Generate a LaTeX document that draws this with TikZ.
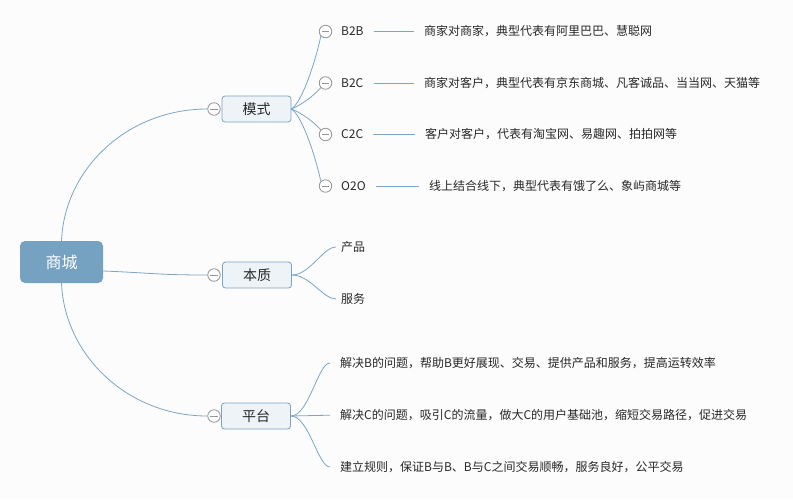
\documentclass[tikz,border=0pt]{standalone}
\usepackage{fontspec}
\setmainfont{Noto Sans CJK SC}
\usetikzlibrary{calc}
\definecolor{bg}{RGB}{252,252,252}
\definecolor{edge}{RGB}{125,165,197}
\definecolor{rootfill}{RGB}{118,162,194}
\definecolor{midfill}{RGB}{238,243,247}
\definecolor{midborder}{RGB}{122,163,195}
\definecolor{txt}{RGB}{40,40,40}
\definecolor{knob}{RGB}{150,150,150}
\begin{document}
\begin{tikzpicture}[x=1pt,y=-1pt,
 rootbox/.style={fill=rootfill, rounded corners=5pt, minimum width=83pt, minimum height=42pt, text=white, font=\fontsize{16}{16}\selectfont, inner sep=0},
 midbox/.style={draw=midborder, fill=midfill, rounded corners=3pt, minimum width=69pt, minimum height=26pt, font=\fontsize{14}{14}\selectfont, inner sep=0, line width=0.8pt, text=txt},
 knobc/.style={circle, draw=knob, fill=white, minimum size=12.5pt, inner sep=0, line width=0.8pt,
   path picture={\draw[knob, line width=0.8pt] ($(path picture bounding box.west)+(2.5pt,0)$) -- ($(path picture bounding box.east)+(-2.5pt,0)$);}},
 leaf/.style={anchor=west, inner sep=0, font=\fontsize{12}{12}\selectfont, text=txt},
 conn/.style={draw=edge, line width=0.8pt},
 tieline/.style={draw=edge, line width=0.8pt, shorten <=10pt, shorten >=10pt}]
\useasboundingbox (0,0) rectangle (793,499);
\fill[bg] (0,0) rectangle (793,499);
% main nodes
\node[rootbox] (root) at (61.5,262) {商城};
\node[midbox] (ms) at (256.5,109) {模式};
\node[midbox] (bz) at (257,275) {本质};
\node[midbox] (pt) at (256,416) {平台};
\node[knobc] (kms) at (214,109) {};
\node[knobc] (kbz) at (214,275) {};
\node[knobc] (kpt) at (214,416) {};
% root connectors
\draw[conn] (root.north) .. controls +(3,-72) and +(-80,0) .. (kms.west);
\draw[conn] (root.south) .. controls +(3,72) and +(-80,0) .. (kpt.west);
\draw[conn] ($(root.east)+(0,9)$) .. controls +(50,2) and +(-50,0) .. (kbz.west);
% mode leaves
\node[knobc] (k1) at (325.5,31.5) {};
\node[knobc] (k2) at (325.5,83) {};
\node[knobc] (k3) at (325.5,134.5) {};
\node[knobc] (k4) at (325.5,186) {};
\node[leaf] (l1) at (341,31) {B2B};
\node[leaf] (l2) at (341,83) {B2C};
\node[leaf] (l3) at (341,134) {C2C};
\node[leaf] (l4) at (341,186) {O2O};
\node[leaf] (d1) at (424,31) {商家对商家，典型代表有阿里巴巴、慧聪网};
\node[leaf] (d2) at (424,83) {商家对客户，典型代表有京东商城、凡客诚品、当当网、天猫等};
\node[leaf] (d3) at (425,134) {客户对客户，代表有淘宝网、易趣网、拍拍网等};
\node[leaf] (d4) at (429,186) {线上结合线下，典型代表有饿了么、象屿商城等};
\draw[tieline] (l1.east) -- (d1.west);
\draw[tieline] (l2.east) -- (d2.west);
\draw[tieline] (l3.east) -- (d3.west);
\draw[tieline] (l4.east) -- (d4.west);
\draw[conn] (ms.east) .. controls +(10,-6) and +(-6,28) .. (k1.south west);
\draw[conn] (ms.east) .. controls +(10,-4) and +(-7,8) .. (k2.south west);
\draw[conn] (ms.east) .. controls +(10,4) and +(-7,-8) .. (k3.north west);
\draw[conn] (ms.east) .. controls +(10,6) and +(-6,-28) .. (k4.north west);
% essence leaves
\node[leaf] (e1) at (341,247) {产品};
\node[leaf] (e2) at (341,299) {服务};
\draw[conn, shorten >=5pt] (bz.east) .. controls +(18,0) and +(-18,0) .. (e1.west);
\draw[conn, shorten >=5pt] (bz.east) .. controls +(18,0) and +(-18,0) .. (e2.west);
% platform leaves
\node[leaf] (p1) at (340,363) {解决B的问题，帮助B更好展现、交易、提供产品和服务，提高运转效率};
\node[leaf] (p2) at (340,415) {解决C的问题，吸引C的流量，做大C的用户基础池，缩短交易路径，促进交易};
\node[leaf] (p3) at (340,467) {建立规则，保证B与B、B与C之间交易顺畅，服务良好，公平交易};
\draw[conn, shorten >=10pt] (pt.east) .. controls +(18,0) and +(-22,0) .. (p1.west);
\draw[conn, shorten >=10pt] (pt.east) -- (p2.west);
\draw[conn, shorten >=10pt] (pt.east) .. controls +(18,0) and +(-22,0) .. (p3.west);
\end{tikzpicture}
\end{document}
